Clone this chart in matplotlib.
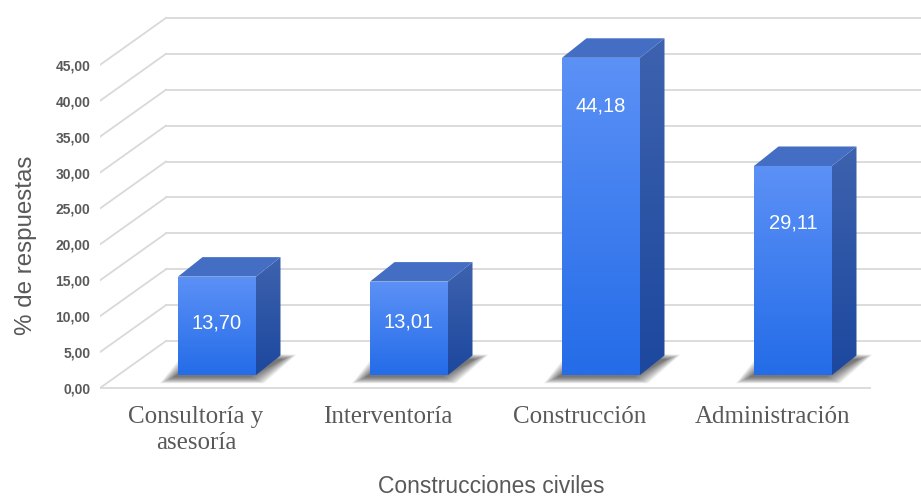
import numpy as np
import matplotlib
matplotlib.use("Agg")
import matplotlib.pyplot as plt
from matplotlib.patches import Polygon

categories = ["Consultoría y\nasesoría", "Interventoría", "Construcción", "Administración"]
values = [13.70, 13.01, 44.18, 29.11]
yticks = [0, 5, 10, 15, 20, 25, 30, 35, 40, 45]

# layout (pixel scale: 192 px per category, 7.18 px per unit)
PX_X = 192.0
PX_Y = 7.18
wall_dx, wall_dy = 66 / PX_X, 47 / PX_Y      # depth of floor / back wall
bar_w = 78 / PX_X
bar_off_x, bar_off_y = 21 / PX_X, 13 / PX_Y  # bar sits a bit inside the floor
bar_dx, bar_dy = 24.5 / PX_X, 19.5 / PX_Y    # bar depth
label_y = [9.05, 9.2, 39.3, 23.0]            # where the value labels sit

grid_c = "#d9d9d9"
text_c = "#595959"

fig = plt.figure(figsize=(9.21, 4.99), dpi=100)
ax = fig.add_axes([100 / 921, 1 - 395 / 499, 821 / 921, 395 / 499])
xlim = (0, 821 / PX_X)
ylim = (-(395 - 388) / PX_Y, 388 / PX_Y)

# back wall + left diagonals
for v in yticks:
    ax.plot([0, wall_dx], [v, v + wall_dy], color=grid_c, lw=1.3, zorder=1)
    ax.plot([wall_dx, xlim[1] + 1], [v + wall_dy] * 2, color=grid_c, lw=1.3, zorder=1)
ax.plot([0, len(categories) + 0.01], [0, 0], color=grid_c, lw=1.3, zorder=1)


def gradient(ax, poly, c_top, c_bot, z):
    xs, ys = poly[:, 0], poly[:, 1]
    n = 64
    t = np.linspace(0, 1, n)[:, None]
    img = (np.array(c_top)[None, :] * (1 - t) + np.array(c_bot)[None, :] * t) / 255
    im = ax.imshow(img[:, None, :], extent=(xs.min(), xs.max(), ys.min(), ys.max()),
                   aspect="auto", origin="upper", zorder=z, interpolation="bilinear")
    clip = Polygon(poly, closed=True, transform=ax.transData, facecolor="none", edgecolor="none")
    ax.add_patch(clip)
    im.set_clip_path(clip)


for i, v in enumerate(values):
    xl = i + 0.5 + bar_off_x - bar_w / 2
    xr = xl + bar_w
    yb = bar_off_y
    yt = yb + v
    z = 3 + i

    # soft shadow at the base
    for s in np.linspace(14, 0, 15):
        sh = [(xl - (4 + s) / PX_X, yb - (2 + s * 0.45) / PX_Y),
              (xr + (s - 6) / PX_X, yb - (2 + s * 0.45) / PX_Y),
              (xr + bar_dx + (s + 2) / PX_X, yb + bar_dy + (s * 0.35 - 4) / PX_Y),
              (xl + bar_dx - (4 + s) / PX_X, yb + bar_dy + (s * 0.35 - 2) / PX_Y)]
        ax.add_patch(Polygon(sh, closed=True, facecolor="#1a1a1a", edgecolor="none",
                             alpha=0.055, zorder=z))

    front = np.array([(xl, yb), (xr, yb), (xr, yt), (xl, yt)])
    side = np.array([(xr, yb), (xr + bar_dx, yb + bar_dy), (xr + bar_dx, yt + bar_dy), (xr, yt)])
    top = np.array([(xl, yt), (xr, yt), (xr + bar_dx, yt + bar_dy), (xl + bar_dx, yt + bar_dy)])
    gradient(ax, front, (92, 145, 246), (36, 108, 232), z + 0.1)
    gradient(ax, side, (62, 98, 174), (28, 72, 158), z + 0.1)
    ax.add_patch(Polygon(top, closed=True, facecolor=(68 / 255, 110 / 255, 196 / 255),
                         edgecolor="none", zorder=z + 0.2))
    ax.text((xl + xr) / 2, label_y[i], f"{v:.2f}".replace(".", ","), color="white",
            fontsize=14.5, family="Liberation Sans", ha="center", va="center", zorder=z + 0.3)

ax.set_xlim(*xlim)
ax.set_ylim(*ylim)
ax.set_xticks([i + 0.5 for i in range(len(categories))])
ax.set_xticklabels(categories, family="Liberation Serif", fontsize=18, color=text_c,
                   linespacing=1.25)
ax.set_yticks(yticks)
ax.set_yticklabels([f"{t:.2f}".replace(".", ",") for t in yticks], family="Liberation Sans",
                   fontsize=10, color=text_c, fontweight="bold")
ax.tick_params(axis="x", length=0, pad=8)
ax.tick_params(axis="y", length=0, pad=7)
for sp in ax.spines.values():
    sp.set_visible(False)

fig.text(491 / 921, 1 - 493 / 499, "Construcciones civiles", family="Liberation Sans",
         fontsize=16.5, color=text_c, ha="center", va="baseline")
fig.text(26 / 921, 1 - 245 / 499, "% de respuestas", family="Liberation Sans",
         fontsize=17.4, color=text_c, ha="center", va="center", rotation=90)

fig.savefig("out.png", dpi=100)
